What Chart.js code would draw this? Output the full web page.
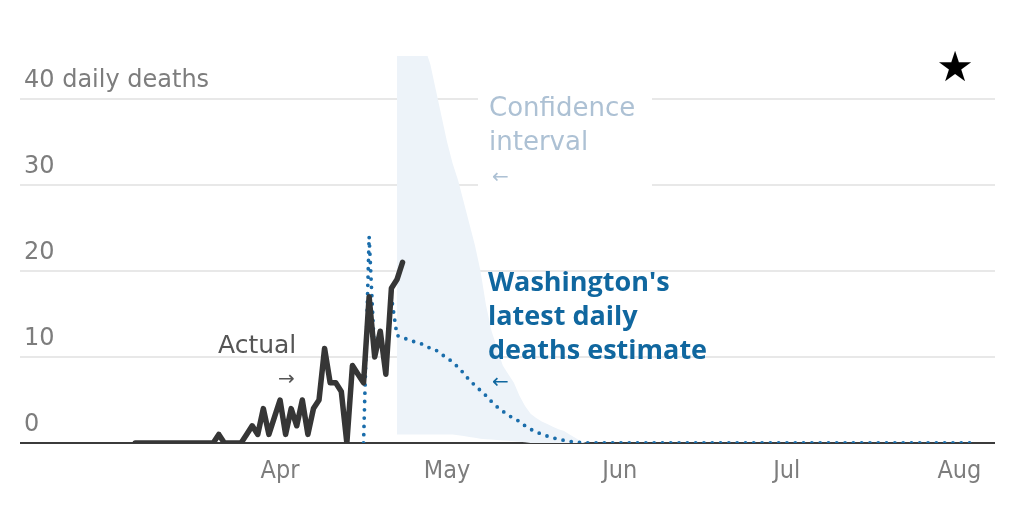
<!DOCTYPE html>
<html>
<head>
<meta charset="utf-8">
<script src="https://cdn.jsdelivr.net/npm/chart.js@4.4.1/dist/chart.umd.min.js"></script>
<style>
  html, body { margin: 0; padding: 0; background: #fff; }
  #wrap { width: 1024px; height: 512px; }
</style>
</head>
<body>
<div id="wrap"><canvas id="deathsChart" width="1024" height="512"></canvas></div>
<script>
// x values are days counted from Mar 1 (Apr 1 = 31, May 1 = 61 ...)
const monthTicks = [31, 61, 92, 122, 153];
const monthLabels = ['Apr', 'May', 'Jun', 'Jul', 'Aug'];
const yTicks = [0, 10, 20, 30, 40];

// reported daily deaths, one value per day from Mar 6
const actualStart = 5;
const actualDeaths = [0, 0, 0, 0, 0, 0, 0, 0, 0, 0, 0, 0, 0, 0, 0, 1, 0, 0, 0, 0,
    1, 2, 1, 4, 1, 3, 5, 1, 4, 2, 5, 1, 4, 5, 11, 7, 7, 6, 0, 9, 8, 7, 17, 10, 13, 8, 18, 19, 21];

// model estimate, one value per day from Apr 16, then flat at zero
const estimateStart = 46;
const estimateDeaths = [0, 24, 10, 13, 8, 17, 12.5, 12.3, 12.0, 11.8, 11.6, 11.4, 11.0, 10.8, 10.3, 9.9,
    9.4, 8.8, 8.1, 7.3, 6.7, 6.1, 5.5, 4.8, 4.2, 3.7, 3.2, 2.9, 2.5, 2.0, 1.6, 1.3, 1.0, 0.8, 0.6, 0.45,
    0.3, 0.2, 0.1, 0.05, 0];
const estimateEndDay = 156;

// confidence interval, one value per day from Apr 22
const bandStart = 52;
const bandUpper = [50, 50, 50, 50, 49, 46, 44, 41, 38, 35, 32.5, 30.5, 28, 25.5, 23, 20, 16, 13, 11,
    9, 8, 7, 5.5, 4.3, 3.4, 2.9, 2.5, 2.2, 1.9, 1.6, 1.4, 1.0, 0.6, 0.2, 0];
const bandLower = [1, 1, 1, 1, 1, 1, 1, 1, 1, 1, 1, 0.9, 0.8, 0.7, 0.6, 0.5, 0.45, 0.4, 0.35, 0.3, 0.25,
    0.2, 0.15, 0.1, 0, 0, 0, 0, 0, 0, 0, 0, 0, 0, 0];

const COLORS = {
    actual: '#363636',
    estimate: '#1a6dab',
    band: '#edf3f9',
    grid: '#e8e8e8',
    baseline: '#3b3b3b',
    tick: '#7d7d7d',
    bandText: '#adc1d4',
    estimateText: '#10679f'
};

const toPoints = (start, values) => values.map((v, i) => ({ x: start + i, y: v }));

const estimatePoints = toPoints(estimateStart, estimateDeaths);
estimatePoints.push({ x: estimateEndDay, y: 0 });

const annotationPlugin = {
    id: 'annotations',
    beforeDatasetsDraw(chart) {
        // white panel behind the confidence label so the gridlines break there
        const ctx = chart.ctx;
        ctx.save();
        ctx.fillStyle = '#fff';
        ctx.fillRect(478, 88, 174, 108);
        ctx.restore();
    },
    afterDatasetsDraw(chart) {
        const ctx = chart.ctx;
        ctx.save();
        ctx.textBaseline = 'middle';
        ctx.textAlign = 'left';

        ctx.fillStyle = COLORS.bandText;
        ctx.font = '26px "DejaVu Sans", sans-serif';
        ctx.fillText('Confidence', 489, 109);
        ctx.fillText('interval', 489, 143);
        ctx.font = '20px "DejaVu Sans", sans-serif';
        ctx.fillText('\u2190', 492, 178);

        ctx.fillStyle = COLORS.estimateText;
        ctx.font = 'bold 27px "Open Sans", sans-serif';
        ctx.fillText("Washington's", 488, 283);
        ctx.fillText('latest daily', 488, 317);
        ctx.fillText('deaths estimate', 488, 351);
        ctx.font = '20px "DejaVu Sans", sans-serif';
        ctx.fillText('\u2190', 492, 383);

        ctx.fillStyle = '#555';
        ctx.font = '25px "DejaVu Sans", sans-serif';
        ctx.fillText('Actual', 218, 346);
        ctx.font = '20px "DejaVu Sans", sans-serif';
        ctx.fillText('\u2192', 278, 380);

        ctx.fillStyle = '#000';
        ctx.textAlign = 'center';
        ctx.font = '42px "DejaVu Sans", sans-serif';
        ctx.fillText('\u2605', 955, 70);
        ctx.restore();
    }
};

const chart = new Chart(document.getElementById('deathsChart').getContext('2d'), {
    type: 'line',
    data: {
        datasets: [{
            label: 'Actual',
            data: toPoints(actualStart, actualDeaths),
            borderColor: COLORS.actual,
            borderWidth: 5.5,
            borderCapStyle: 'round',
            borderJoinStyle: 'round',
            pointRadius: 0,
            fill: false,
            order: 0
        },
        {
            label: 'Estimate',
            data: estimatePoints,
            borderColor: COLORS.estimate,
            borderWidth: 3.8,
            borderDash: [0, 8.3],
            borderCapStyle: 'round',
            pointRadius: 0,
            fill: false,
            order: 1
        },
        {
            label: 'Upper',
            data: toPoints(bandStart, bandUpper),
            borderWidth: 0,
            borderColor: 'rgba(0,0,0,0)',
            backgroundColor: COLORS.band,
            pointRadius: 0,
            fill: '+1',
            order: 2
        },
        {
            label: 'Lower',
            data: toPoints(bandStart, bandLower),
            borderWidth: 0,
            borderColor: 'rgba(0,0,0,0)',
            pointRadius: 0,
            fill: false,
            order: 3
        }]
    },
    options: {
        responsive: false,
        animation: false,
        events: [],
        layout: { padding: { top: 56, left: 20, right: 29, bottom: 0 } },
        plugins: { legend: { display: false }, tooltip: { enabled: false } },
        scales: {
            x: {
                type: 'linear',
                min: -15.7,
                max: 159.4,
                afterBuildTicks(scale) {
                    scale.ticks = monthTicks.map(v => ({ value: v }));
                },
                afterFit(scale) { scale.height = 69; },
                grid: { display: false, drawTicks: false },
                border: { display: false },
                ticks: {
                    padding: 13,
                    maxRotation: 0,
                    autoSkip: false,
                    color: COLORS.tick,
                    font: { family: '"DejaVu Sans Condensed", "DejaVu Sans", sans-serif', size: 25 },
                    callback: (v) => monthLabels[monthTicks.indexOf(v)]
                }
            },
            y: {
                min: 0,
                max: 45,
                afterBuildTicks(scale) {
                    scale.ticks = yTicks.map(v => ({ value: v }));
                },
                afterFit(scale) { scale.width = 0; },
                border: { display: false },
                grid: {
                    drawTicks: false,
                    lineWidth: 2,
                    color: (ctx) => ctx.tick && ctx.tick.value === 0 ? COLORS.baseline : COLORS.grid
                },
                ticks: {
                    mirror: true,
                    padding: 4,
                    labelOffset: -18,
                    color: COLORS.tick,
                    font: { family: '"DejaVu Sans", sans-serif', size: 24 },
                    callback: (v) => v === 40 ? '40 daily deaths' : String(v)
                }
            }
        }
    },
    plugins: [annotationPlugin]
});
</script>
</body>
</html>
